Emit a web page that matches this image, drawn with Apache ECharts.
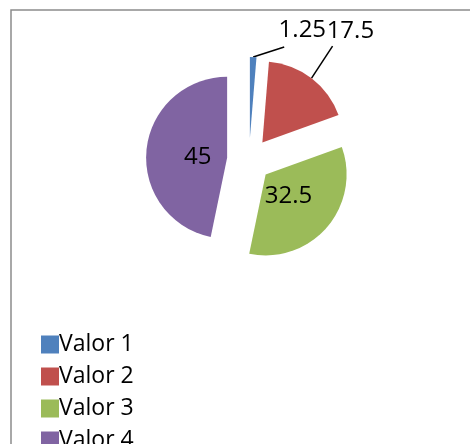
<!DOCTYPE html>
<html>
<head>
<meta charset="utf-8">
<script src="https://cdn.jsdelivr.net/npm/echarts@6/dist/echarts.min.js"></script>
<style>
  html, body { margin: 0; padding: 0; background: #fff; }
  #chart { width: 470px; height: 444px; }
</style>
</head>
<body>
<div id="chart"></div>
<script>
const categories = ['Valor 1', 'Valor 2', 'Valor 3', 'Valor 4'];
const values = [1.25, 17.5, 32.5, 45];
const colors = ['#4F81BD', '#C0504D', '#9BBB59', '#8064A2'];

const chart = echarts.init(document.getElementById('chart'), null, { renderer: 'canvas' });

// label shifts and leader lines to mimic the Excel placement
const leaderDirs = { 0: [31, -10], 1: [21, -32] };
const labelShift = { 0: [20, -17], 1: [4, -39], 2: [-10, -7], 3: [14, 4] };

chart.setOption({
    animation: false,
    graphic: [{
        type: 'rect',
        shape: { x: 11, y: 10, width: 520, height: 520 },
        style: { fill: 'none', stroke: '#8c8c8c', lineWidth: 1.5 },
        silent: true
    }],
    legend: {
        orient: 'vertical',
        left: 36,
        top: 328,
        height: 200,
        icon: 'rect',
        itemWidth: 18,
        itemHeight: 18,
        itemGap: 9,
        data: categories,
        textStyle: { color: '#000', fontFamily: 'Open Sans', fontSize: 23, padding: [0, 0, 0, -5] },
        selectedMode: false
    },
    series: [{
        type: 'pie',
        center: [249, 160],
        radius: 81,
        startAngle: 90,
        clockwise: true,
        selectedMode: 'multiple',
        selectedOffset: 22,
        avoidLabelOverlap: false,
        label: {
            show: true,
            formatter: '{c}',
            color: '#000',
            fontFamily: 'Open Sans',
            fontSize: 24
        },
        labelLine: { show: true, length: 10, length2: 0, lineStyle: { color: '#000', width: 1.5 } },
        emphasis: { disabled: true },
        labelLayout: function (params) {
            const shift = labelShift[params.dataIndex];
            const dir = leaderDirs[params.dataIndex];
            const out = { dx: shift[0], dy: shift[1] };
            if (dir && params.labelLinePoints) {
                const p0 = params.labelLinePoints[0];
                const end = [p0[0] + dir[0], p0[1] + dir[1]];
                out.labelLinePoints = [p0, end, end];
            }
            return out;
        },
        data: categories.map((name, i) => ({
            name: name,
            value: values[i],
            selected: true,
            itemStyle: { color: colors[i] },
            label: { position: i < 2 ? 'outside' : 'inside' },
            labelLine: { show: i < 2 }
        }))
    }]
});
</script>
</body>
</html>
